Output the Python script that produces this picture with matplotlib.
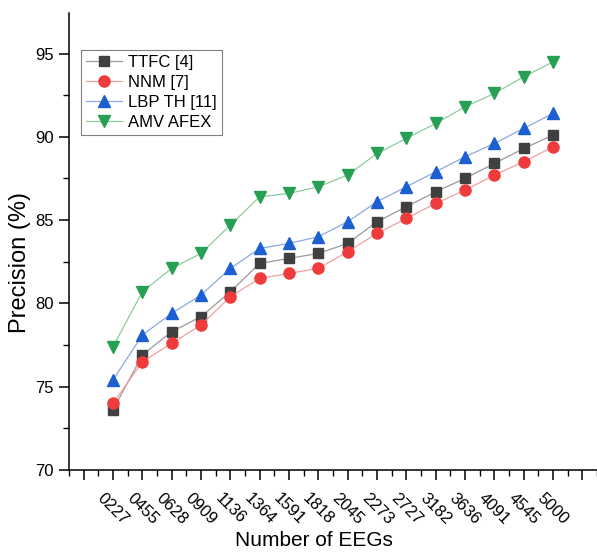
import matplotlib
matplotlib.use("Agg")
import matplotlib.pyplot as plt
from matplotlib.ticker import MultipleLocator

plt.rcParams['font.family'] = ['Liberation Sans', 'DejaVu Sans']

eegs = ["0227", "0455", "0628", "0909", "1136", "1364", "1591", "1818",
        "2045", "2273", "2727", "3182", "3636", "4091", "4545", "5000"]
ttfc = [73.6, 76.9, 78.3, 79.2, 80.7, 82.4, 82.7, 83.0,
        83.6, 84.9, 85.8, 86.7, 87.5, 88.4, 89.3, 90.1]
nnm = [74.0, 76.5, 77.6, 78.7, 80.4, 81.5, 81.8, 82.1,
       83.1, 84.2, 85.1, 86.0, 86.8, 87.7, 88.5, 89.4]
lbp = [75.4, 78.1, 79.4, 80.5, 82.1, 83.3, 83.6, 84.0,
       84.9, 86.1, 87.0, 87.9, 88.8, 89.6, 90.5, 91.4]
amv = [77.4, 80.7, 82.1, 83.0, 84.7, 86.4, 86.6, 87.0,
       87.7, 89.0, 89.9, 90.8, 91.8, 92.6, 93.6, 94.5]

fig = plt.figure(figsize=(5.97, 5.52), dpi=100)
ax = fig.add_axes([0.1156, 0.1486, 0.8844, 0.8284])

x = list(range(1, len(eegs) + 1))
series = [
    (ttfc, "TTFC [4]", "s", "#404040", "#9a9a9a", 7),
    (nnm, "NNM [7]", "o", "#ef3b3b", "#f0a0a0", 8),
    (lbp, "LBP TH [11]", "^", "#1c5fd0", "#8aa8e0", 8.5),
    (amv, "AMV AFEX", "v", "#27a055", "#8ccc9e", 8.5),
]
for vals, lab, mk, mc, lc, ms in series:
    ax.plot(x, vals, color=lc, lw=0.9, marker=mk, ms=ms,
            markerfacecolor=mc, markeredgecolor=mc, label=lab)

ax.set_xlim(-0.5, 17.5)
ax.set_ylim(70, 97.45)
ax.set_xticks(range(0, 18))
ax.set_xticklabels([""] + eegs + [""], rotation=-45, ha="center", va="top")
ax.xaxis.set_minor_locator(MultipleLocator(0.5))
ax.yaxis.set_major_locator(MultipleLocator(5))
ax.yaxis.set_minor_locator(MultipleLocator(2.5))

for s in ["top", "right"]:
    ax.spines[s].set_visible(False)
for s in ["left", "bottom"]:
    ax.spines[s].set_linewidth(1.1)
ax.tick_params(which="major", length=7, width=1.1, labelsize=12, pad=4)
ax.tick_params(which="minor", length=4, width=1.0)
ax.tick_params(axis="x", which="major", pad=8)

ax.set_ylabel("Precision (%)", fontsize=17)
ax.yaxis.set_label_coords(-0.072, 0.453)
ax.set_xlabel("Number of EEGs", fontsize=15)
ax.xaxis.set_label_coords(0.4636, -0.134)

leg = ax.legend(loc="upper left", bbox_to_anchor=(0.022, 0.918), borderaxespad=0,
                fontsize=12, fancybox=False, edgecolor="#808080", framealpha=1,
                handlelength=2.2, handletextpad=0.35, labelspacing=0.3,
                borderpad=0.3)
leg.get_frame().set_linewidth(0.8)

fig.savefig("out.png", dpi=100)
